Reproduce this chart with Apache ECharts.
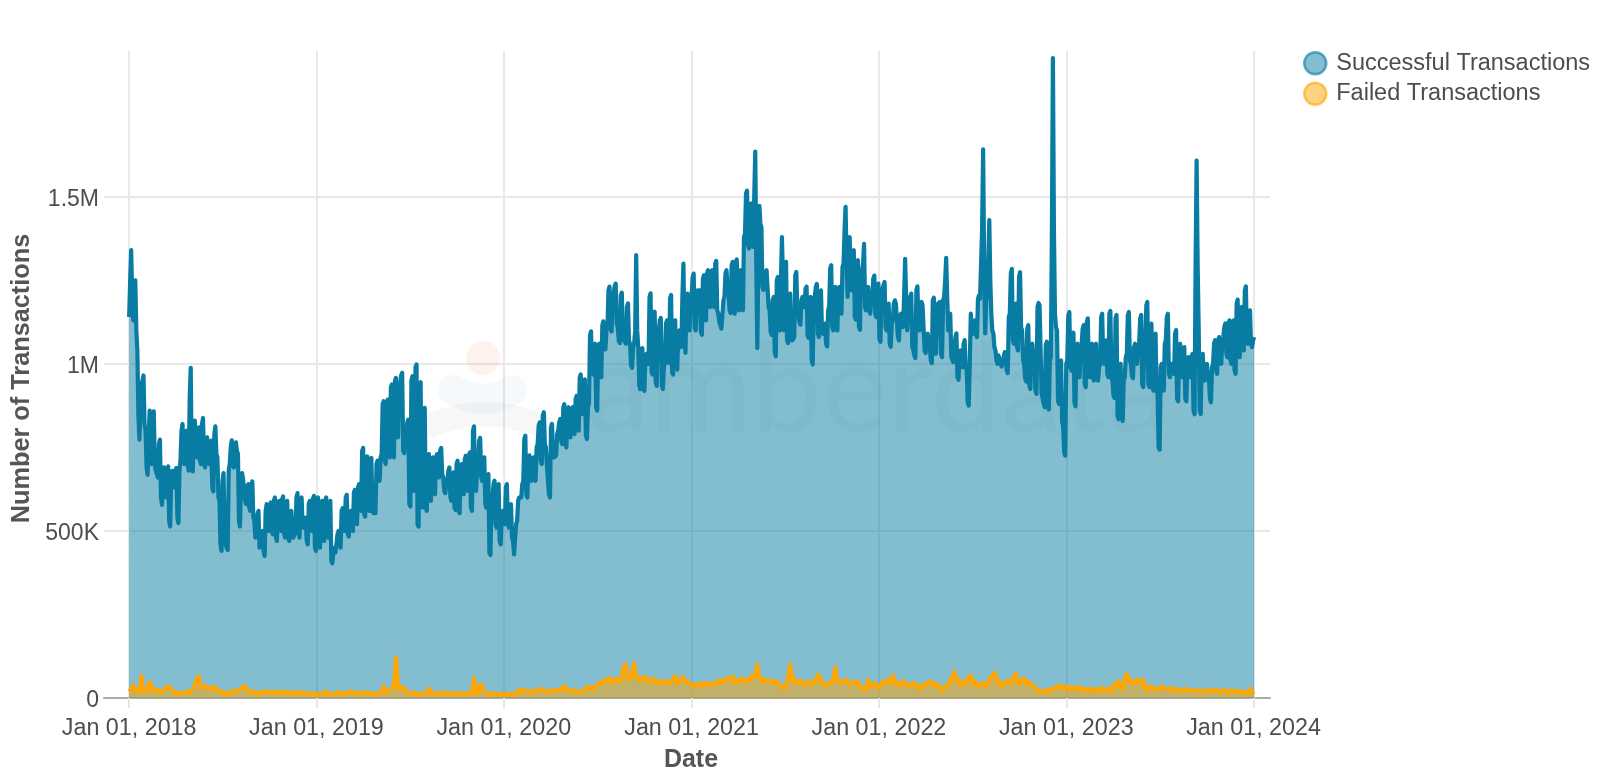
<!DOCTYPE html>
<html><head><meta charset="utf-8">
<style>html,body{margin:0;padding:0;background:#fff}#c{width:1600px;height:782px}</style>
<script src="https://cdn.jsdelivr.net/npm/echarts@6/dist/echarts.min.js"></script>
</head><body><div id="c"></div>
<script>
const seriesNames = ['Successful Transactions', 'Failed Transactions'];
const yearTicks = ['2018-01-01','2019-01-01','2020-01-01','2021-01-01','2022-01-01','2023-01-01','2024-01-01'];
const yearLabels = ['Jan 01, 2018','Jan 01, 2019','Jan 01, 2020','Jan 01, 2021','Jan 01, 2022','Jan 01, 2023','Jan 01, 2024'];
const startDate = '2018-01-01';
const successStepDays = 2;
const failedStepDays = 4;
// thousands of transactions, one value every 2 days
const successValues = [
1140,1250,1340,1200,1130,1220,1250,1100,1040,850,773,850,940,950,965,820,800,690,668,780,
860,760,700,830,858,700,680,670,660,760,773,600,578,660,690,620,600,680,693,530,
513,660,680,630,640,680,688,540,523,680,710,800,820,710,700,790,800,700,680,900,
988,700,678,810,830,730,720,790,810,710,700,820,838,700,690,770,780,710,700,750,
770,630,618,790,813,730,720,600,590,460,440,650,673,480,460,450,443,680,700,750,
771,700,690,750,765,740,730,530,513,660,673,655,650,590,580,630,640,570,560,640,
648,540,530,480,490,550,560,450,445,490,500,440,425,560,580,510,500,570,585,500,
490,590,600,480,470,580,590,510,500,595,603,490,480,580,590,480,470,550,560,490,
480,490,500,600,613,490,480,590,600,520,510,530,540,470,460,580,590,510,500,595,
605,450,440,590,600,460,450,580,590,480,470,590,600,490,480,580,590,410,403,440,
450,435,430,490,500,460,450,560,568,510,500,600,608,490,483,550,560,510,500,615,
623,530,520,630,640,570,560,740,748,550,543,715,723,570,560,710,718,560,553,550,
553,700,710,660,650,720,730,880,888,710,700,885,893,730,720,930,938,730,720,950,
958,790,780,930,940,965,973,740,733,790,800,825,833,580,573,950,963,630,620,990,
998,520,513,935,945,580,570,860,868,570,560,720,730,600,590,710,720,620,610,720,
730,670,660,740,748,670,660,620,613,640,650,680,690,600,590,665,675,570,563,700,
710,560,553,690,700,620,610,715,725,630,620,725,735,570,560,800,813,630,620,690,
700,770,778,660,650,710,720,580,570,660,670,435,428,590,600,640,650,520,510,630,
640,470,460,550,560,530,520,630,640,520,510,570,580,480,470,430,425,520,530,590,
600,595,600,640,650,775,785,610,600,715,726,660,650,710,720,660,650,750,760,815,
825,710,700,845,855,760,750,695,690,610,600,810,820,730,720,722,726,790,800,825,
835,770,760,870,879,760,750,860,870,790,780,860,870,800,790,895,904,810,800,960,
968,860,850,945,953,785,775,870,880,1085,1097,975,968,1050,1060,870,860,1050,1060,970,
960,1115,1127,1050,1043,1100,1110,1220,1231,1105,1097,1200,1210,1232,1240,1120,1110,1070,1062,1205,
1213,1080,1070,1065,1060,1170,1181,1070,1060,995,988,1050,1060,1100,1325,1100,1050,935,924,1035,
1047,930,919,1020,1030,1010,1000,1200,1211,975,968,1145,1156,945,934,1090,1100,1130,1137,935,
925,990,1000,1120,1130,1010,1003,1195,1206,975,968,1120,1130,990,983,1090,1100,1060,1050,1200,
1300,1100,1033,1200,1210,1110,1100,1190,1200,1260,1270,1110,1100,1210,1220,1215,1220,1095,1087,1255,
1265,1140,1130,1270,1280,1180,1170,1270,1280,1180,1170,1300,1308,1160,1150,1125,1120,1105,1100,1190,
1200,1270,1280,1230,1220,1160,1152,1295,1305,1160,1150,1305,1312,1170,1160,1270,1280,1170,1160,1380,
1389,1510,1518,1355,1345,1470,1480,1360,1350,1500,1635,1300,1047,1300,1473,1420,1409,1230,1221,1260,
1270,1280,1285,1170,1160,1095,1087,1190,1200,1035,1023,1250,1260,1110,1100,1250,1379,1250,1100,1295,
1305,1070,1062,1200,1210,1080,1070,1075,1080,1265,1275,1160,1150,1125,1117,1190,1200,1180,1170,1225,
1231,1085,1077,1190,1200,1010,998,1190,1200,1230,1239,1090,1080,1210,1220,1100,1090,1110,1120,1060,
1052,1160,1171,1285,1295,1110,1100,1220,1230,1110,1100,1220,1230,1160,1150,1290,1300,1400,1470,1300,
1200,1370,1379,1230,1220,1330,1340,1140,1132,1300,1310,1110,1102,1270,1280,1300,1359,1170,1160,1220,
1230,1160,1150,1190,1200,1255,1264,1150,1140,1230,1240,1075,1066,1215,1225,1235,1245,1110,1100,1170,
1180,1060,1051,1120,1130,1180,1190,1180,1185,1080,1070,1140,1150,1120,1110,1200,1314,1200,1100,1150,
1160,1200,1210,1050,1042,1025,1017,1220,1232,1110,1100,1175,1185,1175,1180,1040,1032,1080,1090,1070,
1060,1010,1002,1190,1198,1040,1030,1170,1180,1178,1185,1030,1020,1190,1200,1250,1317,1200,1100,1140,
1150,1020,1012,1005,1000,1080,1091,960,952,1030,1040,1000,990,1060,1071,990,980,885,875,1000,
1150,1100,1090,1120,1130,1090,1080,1195,1205,1195,1190,1400,1642,1300,1091,1190,1200,1300,1430,1250,
1150,1100,1090,1050,1040,1010,1000,1025,1030,1000,992,1010,1020,1035,1040,980,972,1140,1150,1270,
1284,1070,1060,1170,1180,1050,1040,1260,1274,1110,1100,1010,1000,955,947,1105,1116,935,925,1050,
1060,1010,1000,920,910,1170,1182,1175,1170,910,898,880,870,1055,1066,875,863,1010,1020,1400,
1915,1400,1150,1110,1100,890,880,1000,1010,825,814,735,725,1000,1010,1145,1155,990,980,1085,
1093,885,873,1050,1060,970,960,1050,1060,1105,1116,940,930,1125,1136,970,960,1050,1060,960,
950,1050,1060,960,950,990,1000,1140,1150,1010,1000,1060,1070,970,960,1150,1158,960,950,905,
898,1135,1146,845,834,990,1000,840,829,950,960,1020,1030,1145,1155,1010,1000,965,957,1050,
1060,1010,1000,1050,1060,1135,1146,940,930,1050,1060,1175,1185,940,930,1110,1120,930,920,1080,
1090,920,910,750,743,990,1000,930,920,1060,1070,1140,1150,970,960,990,1000,980,970,1090,
1101,895,888,1050,1060,970,960,1040,1050,895,888,1010,1020,970,960,1020,1030,860,849,1300,
1608,1300,1111,860,850,1020,1030,960,950,990,1000,970,960,895,885,990,1000,1060,1071,980,
970,1070,1080,1010,1000,1070,1080,1110,1121,1030,1020,1120,1130,1010,1000,1120,1130,980,970,1180,
1192,1030,1020,1160,1170,1050,1040,1220,1232,1070,1060,1150,1160,1060,1050,1070,1080
];
// thousands of transactions, one value every 4 days
const failedValues = [
20,28,38,22,25,18,66,20,22,30,48,24,30,20,24,18,20,26,30,34,
32,22,18,14,16,12,15,18,18,14,22,28,40,58,65,30,30,36,34,26,
28,34,32,24,22,16,18,12,10,18,22,16,20,24,26,30,36,30,25,16,
15,20,18,12,14,18,18,22,20,16,15,20,20,14,18,14,16,20,18,14,
14,18,16,12,16,18,14,12,12,16,14,10,12,14,12,16,20,12,13,10,
10,16,18,10,12,16,15,18,20,14,16,18,14,12,14,18,13,15,13,12,
15,12,14,20,35,16,18,24,30,40,122,30,25,34,30,18,16,12,14,18,
13,10,12,14,12,16,28,14,12,16,14,12,14,18,16,12,13,16,14,12,
16,12,12,14,11,14,12,16,60,14,15,40,38,18,16,12,12,14,13,10,
8,14,12,10,10,12,14,10,10,18,25,20,25,18,20,22,16,20,20,26,
28,20,22,18,18,24,22,20,22,26,24,30,36,24,26,22,24,20,20,16,
18,24,28,32,34,24,26,36,40,44,42,52,55,48,60,46,50,58,55,48,
62,96,100,56,58,70,105,60,62,54,58,64,60,46,50,58,55,44,45,52,
48,42,50,46,45,60,65,44,50,58,62,46,50,44,40,36,38,44,40,34,
45,38,42,46,42,38,48,52,45,54,50,58,55,60,65,46,48,56,50,58,
55,48,52,66,62,72,100,58,60,48,55,50,48,54,50,44,48,38,35,28,
38,60,100,52,60,44,45,52,48,38,42,50,45,40,50,62,70,46,48,38,
40,46,45,56,92,48,50,46,48,56,50,42,45,48,42,50,35,28,30,24,
55,38,35,44,40,30,35,48,45,54,50,44,68,46,48,36,40,52,45,38,
42,34,38,46,30,26,35,42,38,44,50,40,45,36,40,34,22,30,35,40,
55,62,78,48,55,38,40,52,45,60,68,42,50,36,35,44,45,36,40,58,
60,72,75,44,48,36,40,50,52,42,50,66,72,42,45,56,58,40,50,42,
40,30,28,20,22,18,20,26,25,20,28,32,30,38,35,26,30,36,30,24,
32,26,30,34,25,20,28,24,22,30,25,18,24,28,30,20,22,30,28,20,
42,36,50,30,28,60,72,50,55,44,45,56,50,42,55,30,22,34,35,26,
28,24,30,36,32,26,26,30,28,22,26,28,24,20,24,28,22,24,22,20,
20,24,22,18,20,24,24,18,22,26,24,18,20,24,22,16,18,24,22,18,
18,22,20,14,16,18,28,14,20
];

const DAY = 86400000;
const t0 = Date.parse(startDate + 'T00:00:00Z');
const pairs = (vals, step) => vals.map((v, i) => [t0 + i * step * DAY, v * 1000]);
const tickMs = yearTicks.map(d => Date.parse(d + 'T00:00:00Z'));
const labelOf = v => { const k = tickMs.indexOf(v); return k >= 0 ? yearLabels[k] : ''; };
const yFmt = v => { const s = v === 0 ? '0' : v === 500000 ? '500K' : v === 1000000 ? '1M' : v === 1500000 ? '1.5M' : ''; return s ? '{a|' + s + '}' : ''; };

const FONT = '"Liberation Sans", Arial, sans-serif';
const BLUE = '#087ca2', ORANGE = '#ffa500', TXT = '#4d4d4d';

const chart = echarts.init(document.getElementById('c'), null, {renderer:'canvas'});
chart.setOption({
  animation:false,
  backgroundColor:'#fff',
  grid:{left:104, right:330, top:51, bottom:84, containLabel:false},
  legend:{
    orient:'vertical', left:1298, top:46, itemWidth:22, itemHeight:22, itemGap:6,
    textStyle:{fontFamily:FONT, fontSize:23.5, color:TXT, padding:[0,0,0,5]},
    data:[
      {name:seriesNames[0], icon:'circle', itemStyle:{color:'rgba(8,124,162,0.5)', borderColor:'rgba(8,124,162,0.6)', borderWidth:2.5}},
      {name:seriesNames[1], icon:'circle', itemStyle:{color:'rgba(255,165,0,0.5)', borderColor:'rgba(255,165,0,0.6)', borderWidth:2.5}}
    ]
  },
  xAxis:{
    type:'value', scale:true,
    min:Date.parse('2017-11-13T00:00:00Z'), max:Date.parse('2024-02-02T00:00:00Z'),
    name:'Date', nameLocation:'middle', nameGap:50,
    nameTextStyle:{fontFamily:FONT, fontSize:25, fontWeight:'bold', color:'#555', padding:[0,0,0,8]},
    axisLine:{show:true, onZero:false, lineStyle:{color:'#aaa', width:2}},
    axisTick:{show:true, length:10, lineStyle:{color:'#e6e6e6', width:2}, customValues:tickMs},
    axisLabel:{fontFamily:FONT, fontSize:23.3, color:TXT, margin:19, customValues:tickMs, formatter:labelOf, hideOverlap:false, showMinLabel:true, showMaxLabel:true},
    splitLine:{show:true, lineStyle:{color:'#e8e8e8', width:2}}
  },
  yAxis:{
    type:'value', min:0, max:1936000, interval:500000,
    name:'Number of Transactions', nameLocation:'middle', nameGap:59.5, nameRotate:90,
    nameTextStyle:{fontFamily:FONT, fontSize:25.3, fontWeight:'bold', color:'#555', padding:[0,8,0,0]},
    axisLine:{show:false}, axisTick:{show:false},
    axisLabel:{margin:5, formatter:yFmt, showMaxLabel:false, rich:{a:{fontFamily:FONT, fontSize:23, color:TXT, padding:[5,0,0,0]}}},
    splitLine:{show:true, showMaxLine:false, showMinLine:false, lineStyle:{color:'#e8e8e8', width:2}}
  },
  series:[
    {name:seriesNames[0], type:'line', showSymbol:false, symbol:'none', sampling:false,
     data:pairs(successValues, successStepDays),
     lineStyle:{color:BLUE, width:4.2, join:'round'}, itemStyle:{color:BLUE},
     areaStyle:{color:BLUE, opacity:0.5}, z:3},
    {name:seriesNames[1], type:'line', showSymbol:false, symbol:'none',
     data:pairs(failedValues, failedStepDays),
     lineStyle:{color:ORANGE, width:4, join:'round'}, itemStyle:{color:ORANGE},
     areaStyle:{color:ORANGE, opacity:0.5}, z:4}
  ],
  graphic:{elements:[
    {type:'text', silent:true, z:1, left:587, top:328, style:{text:'amberdata', font:'125px Lato, "Liberation Sans", sans-serif', fill:'rgba(0,50,70,0.045)'}},
    {type:'circle', silent:true, z:1, shape:{cx:483, cy:358, r:17}, style:{fill:'rgba(240,90,50,0.08)'}},
    {type:'polyline', silent:true, z:1, shape:{points:[[453,390],[483,399],[512,390]], smooth:0.5}, style:{fill:'none', stroke:'rgba(60,130,170,0.05)', lineWidth:30, lineCap:'round'}},
    {type:'polyline', silent:true, z:1, shape:{points:[[432,425],[483,414],[540,425]], smooth:0.5}, style:{fill:'none', stroke:'rgba(90,90,90,0.05)', lineWidth:24, lineCap:'round'}}
  ]}
});
</script></body></html>
